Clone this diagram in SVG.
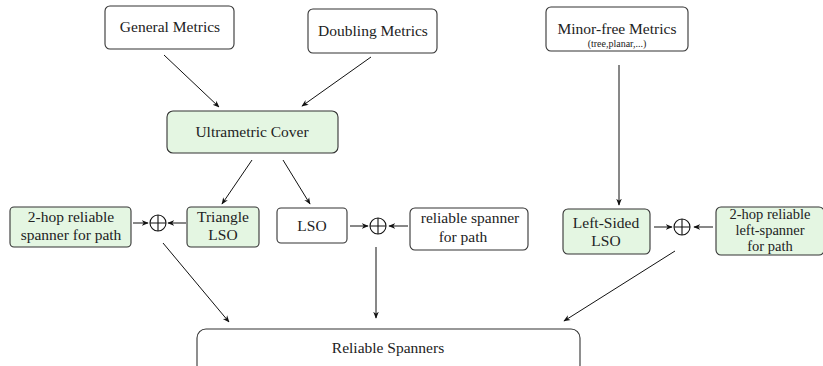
<svg xmlns="http://www.w3.org/2000/svg" width="823" height="366" viewBox="0 0 823 366">
<defs>
<marker id="ah" viewBox="0 0 10 10" refX="9" refY="5" markerWidth="7" markerHeight="7" orient="auto" markerUnits="userSpaceOnUse">
<path d="M0,1 L10,5 L0,9 L3,5 Z" fill="#111"/>
</marker>
<style>
.box{fill:#fff;stroke:#333;stroke-width:1.1}
.g{fill:#e4f6e2}
.t{font-family:"Liberation Serif","DejaVu Serif",serif;font-size:15.5px;fill:#222;text-anchor:middle}
.s{font-size:10px}
.m{font-size:14.5px}
.c{stroke:#111;stroke-width:1;fill:none}
.a{marker-end:url(#ah)}
.op{fill:none;stroke:#111;stroke-width:1.1}
</style>
</defs>
<rect width="823" height="366" fill="#fff"/>
<g id="general"><rect class="box" x="105" y="6" width="129" height="43" rx="5"/><text class="t" x="170" y="32">General Metrics</text></g>
<g id="doubling"><rect class="box" x="308" y="9" width="129" height="44" rx="5"/><text class="t" x="373" y="36">Doubling Metrics</text></g>
<g id="minorfree"><rect class="box" x="546" y="7" width="142" height="44" rx="5"/><text class="t" x="617" y="34">Minor-free Metrics</text><text class="t s" x="617" y="47">(tree,planar,...)</text></g>
<g id="ultra"><rect class="box g" x="167" y="111" width="171" height="42" rx="6"/><text class="t" x="252" y="137">Ultrametric Cover</text></g>
<g id="twohop"><rect class="box g" x="10" y="207" width="121" height="40" rx="4"/><text class="t" x="71" y="222">2-hop reliable</text><text class="t" x="71" y="240">spanner for path</text></g>
<g id="oplus1"><circle class="op" cx="158" cy="223" r="8"/><path class="op" d="M150,223H166M158,215V231"/></g>
<g id="triangle"><rect class="box g" x="187" y="207" width="72" height="40" rx="4"/><text class="t" x="223" y="222">Triangle</text><text class="t" x="223" y="240">LSO</text></g>
<g id="lso"><rect class="box" x="277" y="208" width="70" height="35" rx="4"/><text class="t" x="312" y="231">LSO</text></g>
<g id="oplus2"><circle class="op" cx="378" cy="226" r="8"/><path class="op" d="M370,226H386M378,218V234"/></g>
<g id="relpath"><rect class="box" x="410" y="208" width="118" height="42" rx="5"/><text class="t" x="470" y="223">reliable spanner</text><text class="t" x="463" y="242">for path</text></g>
<g id="leftsided"><rect class="box g" x="563" y="209" width="87" height="45" rx="5"/><text class="t" x="606" y="228">Left-Sided</text><text class="t" x="606" y="246">LSO</text></g>
<g id="oplus3"><circle class="op" cx="682" cy="227" r="8"/><path class="op" d="M674,227H690M682,219V235"/></g>
<g id="twohopleft"><rect class="box g" x="716" y="207" width="108" height="48" rx="5"/><text class="t m" x="770" y="219">2-hop reliable</text><text class="t m" x="770" y="235">left-spanner</text><text class="t m" x="770" y="251">for path</text></g>
<g id="reliable"><rect class="box" x="197" y="329" width="383" height="45" rx="9"/><text class="t" x="388" y="353">Reliable Spanners</text></g>
<g id="connectors">
<line class="c a" x1="164" y1="55" x2="219" y2="107"/>
<line class="c a" x1="371" y1="57" x2="302" y2="106"/>
<line class="c a" x1="252" y1="160" x2="222" y2="204"/>
<line class="c a" x1="283" y1="160" x2="310" y2="204"/>
<line class="c a" x1="619" y1="65" x2="619" y2="205"/>
<line class="c a" x1="133" y1="223" x2="148" y2="223"/>
<line class="c a" x1="186" y1="223" x2="168" y2="223"/>
<line class="c a" x1="350" y1="226" x2="368" y2="226"/>
<line class="c a" x1="408" y1="226" x2="389" y2="226"/>
<line class="c a" x1="654" y1="227" x2="672" y2="227"/>
<line class="c a" x1="713" y1="227" x2="694" y2="227"/>
<line class="c a" x1="163" y1="243" x2="229" y2="322"/>
<line class="c a" x1="376" y1="247" x2="376" y2="318"/>
<line class="c a" x1="675" y1="251" x2="564" y2="321"/>
</g>
</svg>
